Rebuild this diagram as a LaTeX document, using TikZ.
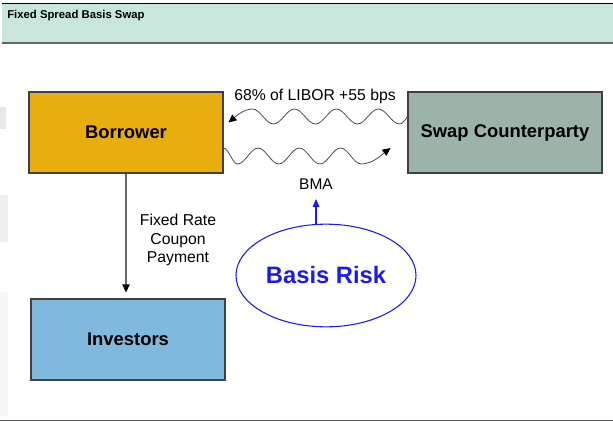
\documentclass[tikz,border=0pt]{standalone}
\usepackage{fontspec}
\setmainfont{Liberation Sans}
\usetikzlibrary{arrows.meta,shapes.geometric,calc}
\definecolor{hdrfill}{HTML}{C8E6DC}
\definecolor{borrowfill}{HTML}{E8AE10}
\definecolor{swapfill}{HTML}{9BB3A8}
\definecolor{invfill}{HTML}{80B8DE}
\definecolor{riskblue}{HTML}{1A1AF0}
\begin{document}
\begin{tikzpicture}[x=0.75pt,y=-0.75pt,
  partybox/.style={rectangle,draw=black!75,line width=0.8pt,minimum width=145.5pt,minimum height=60.75pt,inner sep=0pt,font=\fontsize{13.8}{16}\selectfont\bfseries},
  flowlabel/.style={inner sep=1pt,font=\fontsize{11.8}{13.9}\selectfont,align=center},
  tip/.style={-{Triangle[length=6pt,width=5.5pt,black]}},
  wavy/.style={draw=black!70,line width=0.6pt,tip}]
\useasboundingbox (0,0) rectangle (613,421);
% faint edge artefacts
\fill[black!9] (0,107) rectangle (6,129);
\fill[black!6] (0,195) rectangle (8,242);
\fill[black!3] (0,292) rectangle (8,416);
% header band
\fill[hdrfill] (2,3.5) rectangle (613,42);
\draw[black,line width=0.8pt] (2,3.5) -- (613,3.5);
\draw[black!60,line width=1.5pt] (2,42.5) -- (613,42.5);
\node[anchor=west,inner sep=0pt,font=\fontsize{8.5}{10}\selectfont\bfseries] (title) at (7,15.5) {Fixed Spread Basis Swap};
% bottom rule
\draw[black!65,line width=0.9pt] (0,420.5) -- (613,420.5);
% boxes
\node[partybox,fill=borrowfill] (borrower) at (126,132.5) {Borrower};
\node[partybox,fill=swapfill] (swap) at (505,132.5) {Swap Counterparty};
\node[partybox,fill=invfill] (investors) at (128,339.5) {Investors};
% wavy swap legs: counterparty -> borrower
\draw[wavy] ($(swap.west)+(0,-16)$) sin ++(-8,7.5)
  cos ++(-10.5,-7.5) sin ++(-10.5,-7.5) cos ++(-10.5,7.5) sin ++(-10.5,7.5)
  cos ++(-10.5,-7.5) sin ++(-10.5,-7.5) cos ++(-10.5,7.5) sin ++(-10.5,7.5)
  cos ++(-10.5,-7.5) sin ++(-10.5,-7.5) cos ++(-10.5,7.5) sin ++(-10.5,7.5)
  cos ++(-10.5,-7.5) sin ++(-10.5,-7.5)
  .. controls +(-9,0) and +(6,-5) .. ++(-24,13.5);
% borrower -> counterparty
\draw[wavy] ($(borrower.east)+(0,15.5)$) cos ++(7,8) sin ++(7,8)
  cos ++(10.3,-8) sin ++(10.3,-8) cos ++(10.3,8) sin ++(10.3,8)
  cos ++(10.3,-8) sin ++(10.3,-8) cos ++(10.3,8) sin ++(10.3,8)
  cos ++(10.3,-8) sin ++(10.3,-8) cos ++(10.3,8) sin ++(10.3,8)
  .. controls +(12,0) and +(-8,6) .. ++(29.4,-16);
\node[flowlabel] (libor) at (315,96) {68\% of LIBOR +55 bps};
\node[flowlabel,font=\fontsize{11.6}{13}\selectfont] (bma) at (316,184) {BMA};
% coupon arrow
\draw[tip,draw=black!60,line width=0.8pt,shorten >=4.5pt] (borrower.south) -- (borrower.south |- investors.north);
\node[flowlabel] (coupon) at (178,240) {Fixed Rate\\Coupon\\Payment};
% basis risk
\node[ellipse,draw=riskblue,line width=0.8pt,minimum width=135pt,minimum height=77pt,inner sep=0pt,text=riskblue,font=\fontsize{17.8}{20}\selectfont\bfseries] (risk) at (326,275.5) {Basis Risk};
\draw[-{Triangle[length=6pt,width=5pt]},draw=riskblue,fill=riskblue,line width=0.8pt,shorten >=6pt] (bma.south |- risk.north) -- (bma.south);
\end{tikzpicture}
\end{document}
